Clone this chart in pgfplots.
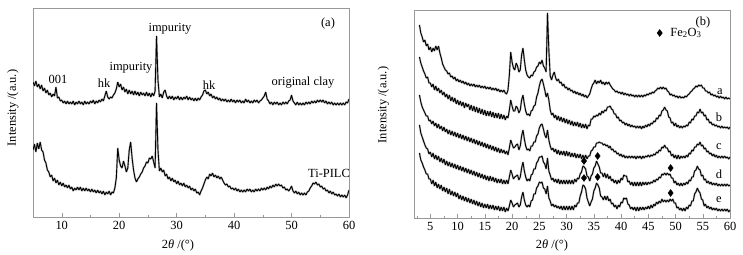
\documentclass[border=0pt]{standalone}
\usepackage{pgfplots}
\pgfplotsset{compat=1.18}
\usepackage{pgfplotstable}
\usepackage{fontspec}
\setmainfont{Liberation Serif}
\pgfplotsset{
  xrd/.style={
    scale only axis, y dir=reverse, ytick=\empty,
    tick align=inside, xtick pos=bottom,
    axis line style={gray!80}, every tick/.style={gray!80},
    major tick length=4bp, minor tick length=2.5bp,
    /pgf/number format/assume math mode=true,
    clip=true,
  },
  curve/.style={black, line width=0.9pt, no marks, line join=bevel,
    preaction={draw, gray!55, line width=1.9pt}},
}
\begin{document}
\fontsize{12.5}{15}\selectfont
\begin{tikzpicture}[x=1bp,y=1bp]
\path (0,0) rectangle (743,253);
% ---------------- panel (a)
\begin{axis}[xrd, at={(33bp,245bp)}, anchor=north west,
  width=316bp, height=209bp, xmin=5, xmax=60, ymin=8, ymax=217,
  xtick={10,20,...,60}, minor xtick={15,25,...,55}]
% original clay
\addplot[curve] table[row sep=\\, header=false, x expr=5+0.25*\coordindex, y index=0]{
82\\86\\81\\87\\
84\\89\\85\\91\\
88\\93\\90\\95\\
93\\97\\94\\96\\
87\\98\\97\\101\\
100\\103\\101\\104\\
101\\104\\102\\104\\
101\\105\\102\\104\\
101\\104\\102\\105\\
101\\104\\102\\104\\
101\\103\\100\\104\\
101\\103\\100\\102\\
99\\101\\96\\91\\
97\\99\\97\\98\\
95\\93\\89\\82\\
87\\84\\90\\87\\
92\\89\\94\\90\\
94\\91\\95\\91\\
95\\92\\96\\92\\
95\\93\\96\\92\\
96\\93\\97\\93\\
96\\91\\36\\80\\
97\\94\\98\\92\\
90\\96\\99\\96\\
99\\96\\100\\97\\
99\\96\\100\\97\\
100\\97\\99\\96\\
100\\97\\100\\98\\
101\\98\\101\\98\\
100\\97\\95\\91\\
90\\94\\92\\96\\
94\\98\\96\\99\\
97\\100\\98\\101\\
99\\101\\99\\102\\
100\\102\\99\\102\\
100\\103\\100\\102\\
100\\103\\101\\103\\
99\\102\\100\\103\\
101\\103\\100\\102\\
100\\103\\101\\100\\
98\\96\\92\\99\\
101\\104\\102\\105\\
102\\104\\102\\105\\
103\\105\\102\\104\\
102\\104\\101\\100\\
95\\101\\103\\105\\
102\\105\\103\\105\\
103\\105\\102\\104\\
102\\104\\101\\103\\
101\\103\\100\\102\\
100\\102\\100\\103\\
101\\104\\102\\104\\
102\\105\\103\\105\\
103\\105\\103\\105\\
103\\105\\102\\103\\
99\\
};
% Ti-PILC
\addplot[curve] table[row sep=\\, header=false, x expr=5+0.25*\coordindex, y index=0]{
150\\144\\152\\143\\
149\\142\\150\\152\\
160\\163\\170\\172\\
177\\175\\181\\178\\
183\\180\\185\\182\\
186\\183\\187\\185\\
188\\185\\189\\187\\
191\\188\\190\\187\\
190\\187\\191\\188\\
191\\188\\191\\189\\
192\\189\\192\\190\\
193\\190\\193\\191\\
194\\191\\195\\192\\
194\\191\\195\\192\\
193\\188\\178\\148\\
160\\166\\168\\161\\
166\\172\\168\\150\\
142\\158\\170\\178\\
182\\179\\177\\174\\
172\\168\\166\\162\\
163\\158\\159\\156\\
162\\168\\103\\150\\
171\\168\\172\\170\\
176\\174\\179\\177\\
181\\178\\182\\180\\
184\\181\\185\\183\\
186\\183\\187\\185\\
188\\186\\190\\188\\
191\\189\\193\\192\\
195\\191\\188\\184\\
180\\177\\179\\174\\
176\\173\\177\\175\\
178\\176\\179\\177\\
180\\183\\185\\184\\
187\\186\\189\\188\\
190\\188\\191\\189\\
192\\190\\192\\190\\
192\\189\\191\\189\\
192\\190\\192\\189\\
191\\189\\191\\188\\
190\\188\\190\\187\\
189\\186\\188\\185\\
187\\184\\186\\184\\
186\\185\\188\\187\\
190\\189\\191\\189\\
186\\191\\193\\191\\
194\\192\\195\\193\\
195\\193\\195\\192\\
191\\188\\186\\183\\
184\\182\\185\\184\\
187\\186\\189\\188\\
191\\190\\193\\191\\
194\\192\\195\\194\\
196\\194\\197\\195\\
197\\195\\198\\195\\
190\\
};
\end{axis}
% ---------------- panel (b)
\begin{axis}[xrd, at={(414bp,243bp)}, anchor=north west,
  width=316bp, height=208bp, xmin=2, xmax=60, ymin=10, ymax=218,
  xtick={5,10,...,60}, minor xtick={2.5,7.5,...,57.5}]
% a
\addplot[curve] table[row sep=\\, header=false, x expr=3+0.25*\coordindex, y index=0]{
25\\33\\37\\42\\
40\\46\\44\\50\\
47\\52\\48\\51\\
46\\50\\46\\53\\
58\\64\\67\\70\\
71\\74\\73\\77\\
76\\79\\77\\81\\
79\\82\\80\\83\\
81\\84\\82\\85\\
83\\86\\84\\86\\
84\\87\\85\\87\\
85\\88\\86\\88\\
86\\89\\87\\89\\
87\\90\\88\\90\\
88\\91\\89\\92\\
90\\92\\90\\93\\
94\\90\\75\\52\\
62\\68\\70\\63\\
66\\72\\70\\55\\
48\\60\\70\\75\\
77\\78\\75\\76\\
72\\71\\67\\66\\
62\\64\\60\\66\\
68\\72\\13\\50\\
76\\80\\75\\72\\
78\\81\\79\\83\\
82\\86\\84\\88\\
87\\90\\88\\91\\
90\\93\\91\\94\\
92\\95\\93\\96\\
94\\97\\95\\98\\
96\\94\\89\\85\\
83\\80\\84\\81\\
83\\80\\84\\82\\
85\\82\\84\\82\\
85\\87\\89\\90\\
92\\91\\93\\92\\
94\\92\\95\\93\\
95\\94\\96\\94\\
96\\95\\97\\95\\
97\\95\\97\\95\\
97\\95\\96\\94\\
95\\93\\94\\92\\
93\\91\\90\\88\\
89\\87\\89\\87\\
89\\88\\91\\92\\
95\\94\\96\\95\\
97\\96\\98\\96\\
98\\97\\98\\96\\
97\\95\\94\\92\\
91\\89\\88\\86\\
87\\85\\86\\85\\
88\\88\\91\\91\\
93\\92\\95\\94\\
96\\95\\97\\96\\
98\\96\\98\\97\\
99\\97\\99\\98\\
99\\
};
% b
\addplot[curve] table[row sep=\\, header=false, x expr=3+0.25*\coordindex, y index=0]{
57\\63\\67\\71\\
74\\78\\77\\83\\
83\\87\\84\\90\\
86\\91\\88\\93\\
90\\95\\92\\97\\
94\\99\\95\\101\\
97\\102\\98\\104\\
100\\105\\101\\106\\
102\\108\\103\\107\\
104\\110\\105\\111\\
106\\112\\107\\113\\
108\\114\\109\\115\\
110\\116\\111\\116\\
111\\117\\112\\118\\
113\\118\\113\\119\\
114\\119\\115\\120\\
116\\118\\110\\100\\
106\\111\\111\\106\\
108\\113\\110\\100\\
95\\104\\111\\115\\
114\\116\\111\\110\\
106\\105\\97\\93\\
86\\81\\79\\84\\
90\\97\\93\\100\\
110\\115\\113\\118\\
115\\120\\116\\121\\
117\\122\\118\\123\\
119\\124\\120\\125\\
121\\126\\122\\126\\
122\\127\\123\\128\\
124\\128\\124\\129\\
125\\126\\119\\119\\
116\\117\\115\\116\\
113\\115\\111\\113\\
110\\111\\107\\107\\
106\\109\\110\\114\\
114\\118\\117\\121\\
120\\123\\122\\125\\
123\\126\\124\\127\\
125\\127\\126\\128\\
126\\128\\126\\129\\
126\\128\\125\\127\\
124\\126\\123\\124\\
121\\122\\118\\119\\
115\\116\\111\\110\\
107\\110\\111\\117\\
118\\123\\122\\126\\
123\\127\\125\\128\\
126\\128\\126\\127\\
125\\126\\122\\123\\
119\\120\\116\\116\\
112\\113\\109\\113\\
112\\116\\115\\120\\
119\\123\\122\\125\\
124\\126\\125\\127\\
126\\128\\126\\128\\
127\\128\\127\\129\\
127\\
};
% c
\addplot[curve] table[row sep=\\, header=false, x expr=3+0.25*\coordindex, y index=0]{
95\\102\\107\\110\\
113\\116\\116\\121\\
120\\124\\121\\126\\
123\\128\\124\\129\\
126\\131\\127\\132\\
129\\134\\130\\135\\
131\\136\\132\\137\\
133\\138\\134\\139\\
135\\140\\136\\141\\
137\\142\\138\\143\\
139\\144\\140\\145\\
141\\146\\142\\147\\
143\\148\\144\\149\\
145\\150\\146\\151\\
147\\152\\148\\153\\
149\\153\\150\\154\\
151\\155\\148\\140\\
144\\148\\147\\145\\
144\\150\\146\\136\\
130\\139\\146\\150\\
149\\151\\146\\146\\
142\\142\\136\\134\\
128\\125\\124\\129\\
135\\138\\130\\140\\
146\\150\\148\\152\\
149\\154\\150\\155\\
151\\155\\151\\156\\
151\\156\\152\\157\\
153\\157\\153\\158\\
154\\158\\154\\159\\
155\\159\\155\\159\\
156\\156\\151\\150\\
147\\147\\143\\143\\
142\\143\\143\\145\\
144\\146\\145\\148\\
146\\150\\149\\152\\
151\\154\\153\\156\\
154\\157\\155\\158\\
156\\158\\156\\158\\
156\\158\\156\\159\\
156\\158\\156\\159\\
156\\158\\156\\157\\
155\\157\\155\\156\\
154\\155\\152\\153\\
150\\151\\147\\148\\
145\\148\\148\\152\\
151\\156\\154\\158\\
155\\159\\155\\159\\
156\\158\\156\\158\\
155\\157\\153\\154\\
150\\151\\147\\147\\
144\\145\\142\\146\\
145\\149\\148\\152\\
151\\154\\153\\156\\
154\\157\\155\\158\\
156\\158\\156\\158\\
156\\158\\157\\159\\
157\\
};
% d
\addplot[curve] table[row sep=\\, header=false, x expr=3+0.25*\coordindex, y index=0]{
125\\133\\137\\141\\
145\\148\\149\\154\\
152\\157\\153\\159\\
155\\160\\156\\162\\
158\\163\\159\\165\\
161\\166\\162\\167\\
163\\168\\164\\169\\
165\\170\\166\\171\\
167\\172\\168\\173\\
169\\174\\170\\175\\
171\\176\\172\\177\\
173\\178\\174\\179\\
175\\180\\176\\181\\
176\\181\\177\\182\\
178\\183\\179\\183\\
179\\184\\180\\184\\
180\\184\\177\\170\\
174\\179\\177\\176\\
175\\180\\177\\168\\
162\\171\\177\\181\\
179\\181\\175\\174\\
169\\169\\163\\161\\
157\\157\\156\\162\\
164\\169\\158\\171\\
175\\180\\178\\182\\
179\\183\\179\\184\\
180\\184\\180\\184\\
180\\184\\180\\184\\
180\\184\\179\\182\\
178\\179\\174\\172\\
166\\167\\169\\176\\
177\\181\\176\\174\\
168\\166\\161\\164\\
167\\173\\173\\177\\
173\\178\\174\\179\\
176\\181\\179\\183\\
180\\184\\180\\183\\
178\\180\\175\\176\\
176\\182\\181\\185\\
182\\186\\182\\186\\
182\\186\\182\\186\\
182\\185\\182\\185\\
182\\184\\182\\183\\
180\\182\\179\\180\\
177\\178\\174\\175\\
173\\175\\173\\175\\
174\\178\\178\\183\\
181\\185\\183\\186\\
183\\186\\183\\185\\
182\\184\\180\\181\\
177\\177\\171\\170\\
166\\169\\170\\176\\
175\\180\\179\\183\\
181\\184\\182\\185\\
183\\185\\183\\186\\
184\\186\\184\\186\\
184\\186\\184\\186\\
185\\
};
% e
\addplot[curve] table[row sep=\\, header=false, x expr=3+0.25*\coordindex, y index=0]{
153\\160\\163\\167\\
170\\174\\174\\179\\
179\\184\\180\\186\\
182\\188\\184\\189\\
185\\191\\187\\192\\
188\\194\\189\\195\\
191\\196\\192\\197\\
193\\199\\195\\200\\
196\\201\\197\\202\\
198\\203\\199\\204\\
200\\205\\201\\206\\
202\\207\\203\\208\\
204\\208\\204\\209\\
205\\209\\205\\210\\
206\\210\\206\\211\\
207\\211\\207\\212\\
208\\211\\206\\200\\
203\\207\\205\\204\\
203\\207\\205\\197\\
192\\200\\205\\207\\
205\\207\\201\\200\\
194\\194\\188\\186\\
182\\183\\182\\188\\
189\\194\\186\\198\\
201\\206\\204\\207\\
205\\208\\206\\209\\
206\\210\\206\\210\\
206\\210\\206\\210\\
206\\210\\205\\207\\
203\\203\\196\\192\\
185\\186\\189\\198\\
202\\206\\202\\199\\
191\\188\\183\\185\\
188\\196\\197\\200\\
196\\200\\196\\201\\
199\\204\\203\\207\\
205\\209\\205\\207\\
202\\203\\198\\199\\
198\\204\\205\\209\\
207\\210\\207\\211\\
207\\211\\207\\210\\
207\\210\\207\\209\\
206\\209\\205\\208\\
204\\206\\202\\204\\
201\\203\\199\\202\\
200\\202\\200\\202\\
199\\201\\199\\203\\
203\\208\\207\\210\\
208\\211\\208\\211\\
207\\209\\205\\206\\
201\\201\\194\\192\\
188\\191\\193\\199\\
200\\206\\204\\208\\
206\\209\\207\\210\\
208\\210\\208\\211\\
209\\211\\209\\211\\
209\\211\\209\\212\\
210\\
};
% Fe2O3 markers
\addplot[only marks, mark=diamond*, mark size=3.5pt, black] coordinates {
(33.2,161) (35.7,156) (49.1,168)
(33.2,178) (35.7,177) (49.1,193)
(47.1,33)};
\end{axis}
% ---------------- texts
\node at (58,174) {001};
\node at (104,170) {hk};
\node at (131,185) {impurity};
\node at (170,224) {impurity};
\node at (209,168) {hk};
\node at (303,170) {original clay};
\node at (329,80) {Ti-PILC};
\node at (328,229) {(a)};
\node at (703,230) {(b)};
\node[anchor=west] at (666,220) {Fe\textsubscript{2}O\textsubscript{3}};
\node at (720,161) {a};
\node at (719,136) {b};
\node at (719,106) {c};
\node at (719,79) {d};
\node at (719,53) {e};
\node[rotate=90] at (13,145) {Intensity /(a.u.)};
\node[rotate=90] at (383.5,148) {Intensity /(a.u.)};
\node at (178,8) {2\textit{θ} /(°)};
\node at (552,8) {2\textit{θ} /(°)};
\end{tikzpicture}
\end{document}
